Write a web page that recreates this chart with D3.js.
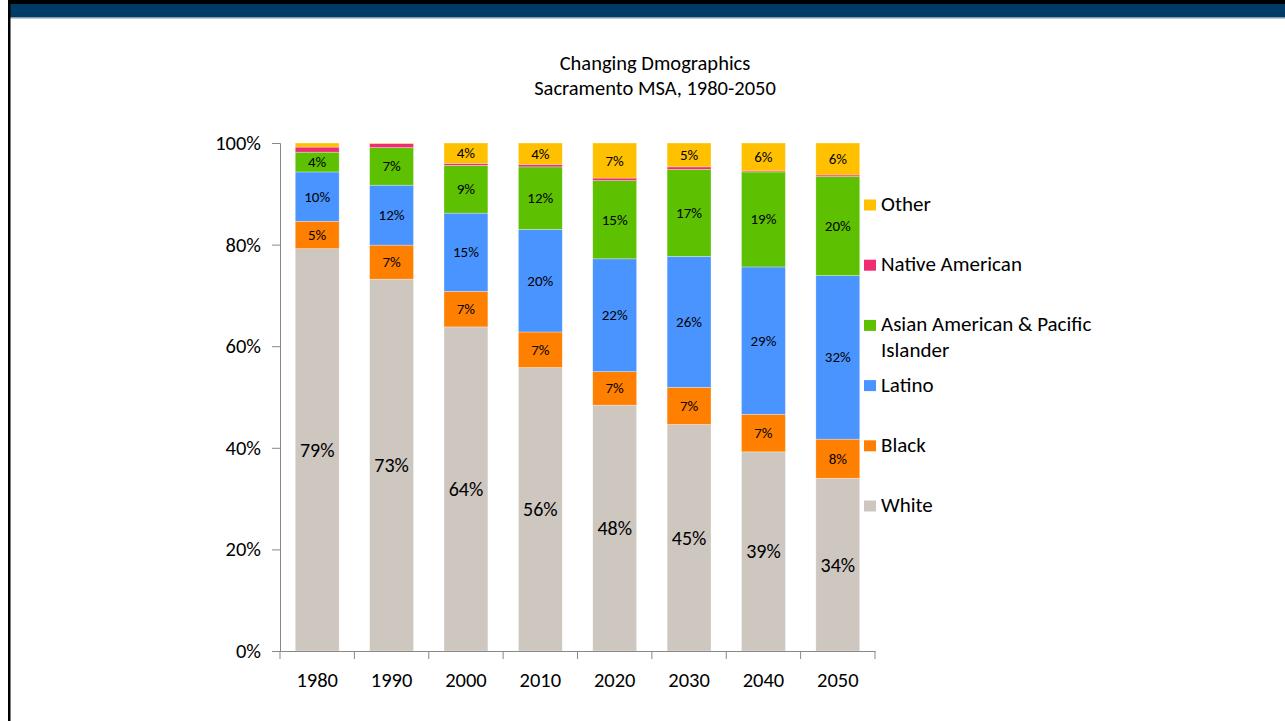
<!DOCTYPE html>
<html>
<head>
<meta charset="utf-8">
<script src="https://cdn.jsdelivr.net/npm/d3@7"></script>
<style>
  html, body { margin: 0; padding: 0; background: #fff; }
  svg { display: block; }
  text { font-family: Carlito, Calibri, Lato, sans-serif; fill: #000; }
</style>
</head>
<body>
<svg id="chart" width="1285" height="721"></svg>
<script>
// ---- data ----
const years = ["1980", "1990", "2000", "2010", "2020", "2030", "2040", "2050"];
const seriesNames = ["White", "Black", "Latino", "Asian American & Pacific Islander", "Native American", "Other"];
const white    = [79.2, 73.2, 63.8, 55.8, 48.4, 44.6, 39.2, 34.0];
const black    = [5.4, 6.7, 7.0, 7.0, 6.6, 7.3, 7.4, 7.7];
const latino   = [9.7, 11.8, 15.4, 20.2, 22.2, 25.8, 29.0, 32.2];
const asian    = [3.9, 7.4, 9.4, 12.3, 15.4, 17.1, 18.7, 19.5];
const native   = [1.0, 0.8, 0.4, 0.5, 0.5, 0.5, 0.2, 0.3];
const other    = [0.8, 0.1, 4.0, 4.2, 6.9, 4.7, 5.5, 6.3];
const yTicks   = [0, 20, 40, 60, 80, 100];
const colors   = ["#CEC7C0", "#FF7F00", "#4A94FF", "#5DC000", "#EE2D72", "#FFC000"];
const legendOrder = ["Other", "Native American", "Asian American & Pacific Islander", "Latino", "Black", "White"];
const titleLines = ["Changing Dmographics", "Sacramento MSA, 1980-2050"];

const seriesValues = [white, black, latino, asian, native, other];
const table = years.map((y, i) => {
  const row = { year: y };
  seriesNames.forEach((s, k) => { row[s] = seriesValues[k][i]; });
  return row;
});

const svg = d3.select("#chart");
const FONT = "Carlito, Calibri, Lato, sans-serif";

// ---- frame ----
svg.append("rect").attr("x", 8).attr("y", 0).attr("width", 1277).attr("height", 4).attr("fill", "#000");
svg.append("rect").attr("x", 10).attr("y", 4).attr("width", 1275).attr("height", 13).attr("fill", "#003A66");
svg.append("rect").attr("x", 10).attr("y", 17).attr("width", 1275).attr("height", 1.5).attr("fill", "#7f98ad");
svg.append("rect").attr("x", 8).attr("y", 0).attr("width", 2.5).attr("height", 721).attr("fill", "#000");

// ---- scales ----
const x = d3.scaleBand().domain(years).range([280, 875]).paddingInner(0.41).paddingOuter(0.205);
const y = d3.scaleLinear().domain([0, 100]).range([651, 143]);
const color = d3.scaleOrdinal().domain(seriesNames).range(colors);

// ---- title ----
svg.append("g").selectAll("text").data(titleLines).join("text")
  .attr("x", 655).attr("y", (d, i) => 70 + i * 25)
  .attr("text-anchor", "middle").style("font-size", "20.5px").text(d => d);

// ---- stacked bars ----
const stack = d3.stack().keys(seriesNames)(table);
const layers = svg.append("g").selectAll("g").data(stack).join("g")
  .attr("fill", d => color(d.key));
layers.selectAll("rect").data(d => d).join("rect")
  .attr("x", d => x(d.data.year))
  .attr("y", d => y(d[1]))
  .attr("width", x.bandwidth())
  .attr("height", d => y(d[0]) - y(d[1]))
  .attr("stroke", "rgba(255,255,255,0.5)").attr("stroke-width", 0.6);

// ---- data labels ----
stack.forEach(layer => {
  if (layer.key === "Native American") return;
  svg.append("g").selectAll("text").data(layer.filter(d => d[1] - d[0] >= 2)).join("text")
    .attr("x", d => x(d.data.year) + x.bandwidth() / 2)
    .attr("y", d => (y(d[0]) + y(d[1])) / 2)
    .attr("text-anchor", "middle").attr("dominant-baseline", "central")
    .style("font-size", layer.key === "White" ? "20px" : "15px")
    .text(d => Math.round(d[1] - d[0]) + "%");
});

// ---- axes ----
const yAxis = svg.append("g").attr("transform", "translate(280,0)")
  .call(d3.axisLeft(y).tickValues(yTicks).tickFormat(d => d + "%").tickSizeOuter(0).tickSize(8).tickPadding(11));
yAxis.select(".domain").attr("stroke", "#888");
yAxis.selectAll(".tick line").attr("stroke", "#888");
yAxis.selectAll(".tick text").style("font-size", "20.5px").attr("fill", "#000").style("font-family", FONT);

const xAxis = svg.append("g").attr("transform", "translate(0,651)")
  .call(d3.axisBottom(x).tickSize(0).tickPadding(21));
xAxis.select(".domain").attr("stroke", "#888");
xAxis.selectAll(".tick text").style("font-size", "20.5px").attr("fill", "#000").style("font-family", FONT);
// category separator ticks
const sepPos = years.map(d => x(d) - x.step() * x.paddingInner() / 2).concat([875]);
sepPos[0] = 280;
xAxis.append("g").selectAll("line").data(sepPos).join("line")
  .attr("x1", d => d).attr("x2", d => d).attr("y1", 0).attr("y2", 8)
  .attr("stroke", "#888");

// ---- legend ----
const legend = svg.append("g").selectAll("g").data(legendOrder).join("g")
  .attr("transform", (d, i) => `translate(864, ${205 + i * 60.2})`);
legend.append("rect").attr("x", 0).attr("y", -5.5).attr("width", 12).attr("height", 11)
  .attr("fill", d => color(d));
legend.each(function(d) {
  const g = d3.select(this);
  const lines = d === "Asian American & Pacific Islander" ? ["Asian American & Pacific", "Islander"] : [d];
  lines.forEach((l, j) => {
    g.append("text").attr("x", 17).attr("y", j * 26 - 1).attr("dominant-baseline", "central")
      .style("font-size", "21px").text(l);
  });
});
</script>
</body>
</html>
